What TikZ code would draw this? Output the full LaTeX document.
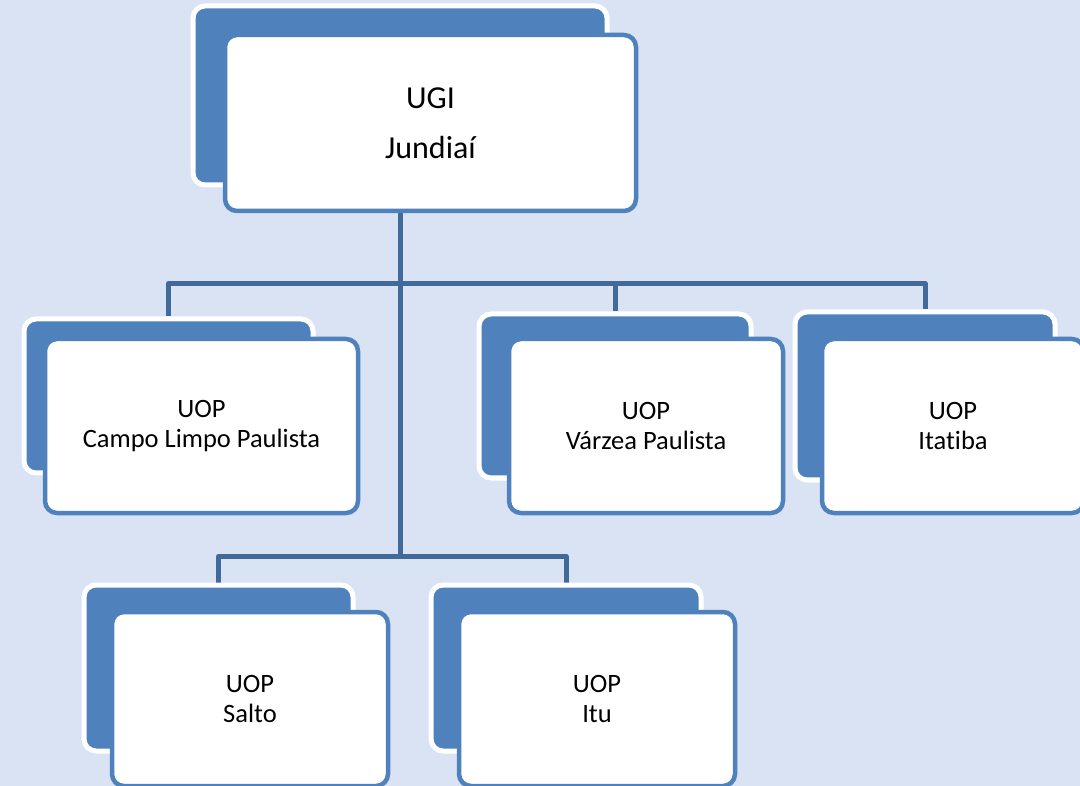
\documentclass[tikz,border=0pt]{standalone}
\usepackage{fontspec}
\setmainfont{Carlito}[Ligatures=NoCommon]
\definecolor{bgc}{HTML}{DAE3F3}
\definecolor{boxblue}{HTML}{4F81BD}
\definecolor{linkblue}{HTML}{41699A}
\pgfdeclarelayer{lines}
\pgfsetlayers{lines,main}
\begin{document}
\begin{tikzpicture}[x=1pt,y=-1pt,
  backbox/.style={fill=boxblue,draw=white,line width=5pt,rounded corners=12pt,inner sep=0pt},
  frontbox/.style={fill=white,draw=boxblue,line width=4.5pt,rounded corners=12pt,inner sep=0pt,align=center,font=\fontsize{26.5}{30}\selectfont},
  link/.style={draw=linkblue,line width=5pt,line join=round}]
\useasboundingbox (0,0) rectangle (1080,786);
\begin{pgfonlayer}{lines}
\fill[bgc] (0,0) rectangle (1080,786);
\end{pgfonlayer}
% top
\node[backbox,minimum width=414pt,minimum height=179pt] (ugiback) at (400,95.5) {};
\node[frontbox,minimum width=411pt,minimum height=176pt,font=\fontsize{32}{50}\selectfont] (ugi) at (430.5,123) {UGI\\Jundiaí};
% row 2
\node[backbox,minimum width=289pt,minimum height=154pt] (campoback) at (168.5,396) {};
\node[frontbox,minimum width=313pt,minimum height=174pt] (campo) at (201.5,426) {UOP\\Campo Limpo Paulista};
\node[backbox,minimum width=272pt,minimum height=164pt] (varzeaback) at (615,396) {};
\node[frontbox,minimum width=274pt,minimum height=174pt] (varzea) at (646,426) {UOP\\Várzea Paulista};
\node[backbox,minimum width=260pt,minimum height=168pt] (itatibaback) at (925,396) {};
\node[frontbox,minimum width=262pt,minimum height=174pt] (itatiba) at (953,426) {UOP\\Itatiba};
% row 3
\node[backbox,minimum width=269pt,minimum height=166pt] (saltoback) at (218.5,668) {};
\node[frontbox,minimum width=276pt,minimum height=174pt] (salto) at (250,699) {UOP\\Salto};
\node[backbox,minimum width=270pt,minimum height=166pt] (ituback) at (566,668) {};
\node[frontbox,minimum width=276pt,minimum height=174pt] (itu) at (597,699) {UOP\\Itu};
% connectors
\begin{pgfonlayer}{lines}
\path (ugiback.south) ++(0,96) coordinate (bus1);
\path (bus1) ++(0,273) coordinate (bus2);
\draw[link] (ugiback.south) -- (bus1) -- (bus2);
\draw[link] (campoback.north) |- (bus1) -| (itatibaback.north);
\draw[link] (varzeaback.north) -- (varzeaback.north |- bus1);
\draw[link] (saltoback.north) |- (bus2) -| (ituback.north);
\end{pgfonlayer}
\end{tikzpicture}
\end{document}
